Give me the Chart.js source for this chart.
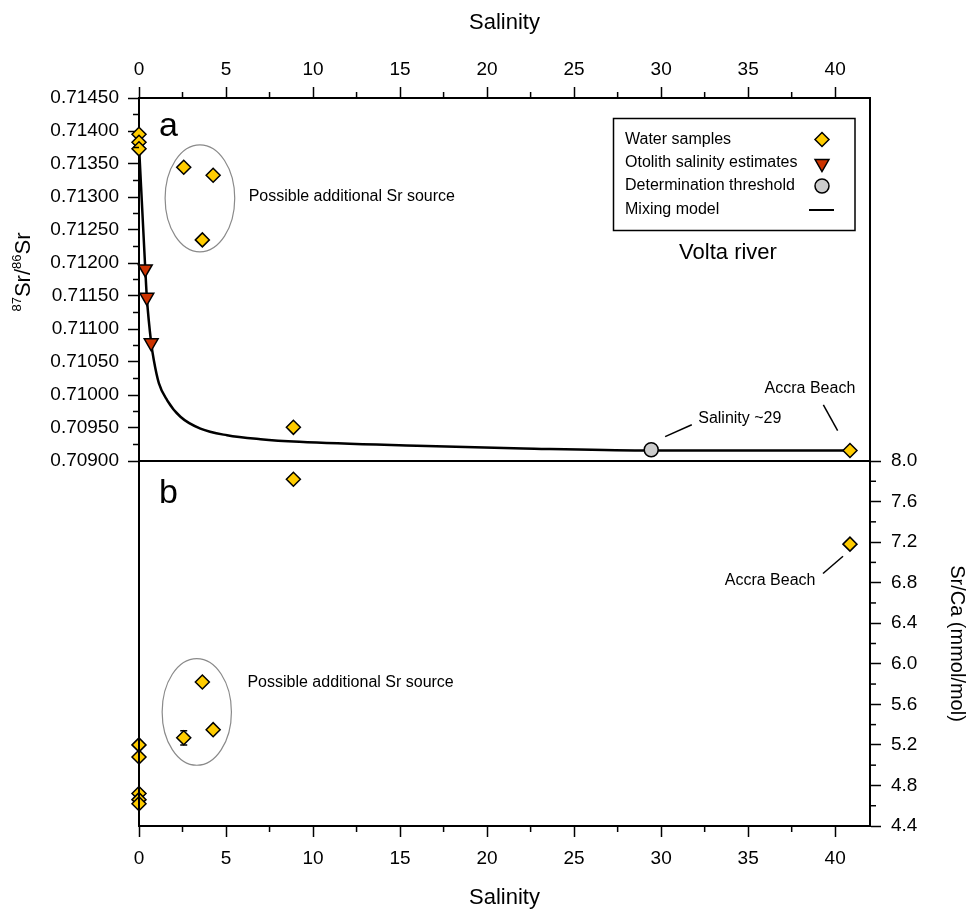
<!DOCTYPE html>
<html><head><meta charset="utf-8">
<script src="https://cdn.jsdelivr.net/npm/chart.js@4.4.0/dist/chart.umd.min.js"></script>
<style>
html,body{margin:0;padding:0;background:#fff;}
#wrap{position:relative;width:969px;height:911px;}
canvas{position:absolute;left:0;top:0;}
</style></head><body>
<div id="wrap"><canvas id="cBottom" width="969" height="911"></canvas><canvas id="cTop" width="969" height="911"></canvas></div>
<script>
// ---------- DATA ----------
const salinityTicks = [0, 5, 10, 15, 20, 25, 30, 35, 40];
const srRatioTicks = [0.70900, 0.70950, 0.71000, 0.71050, 0.71100, 0.71150, 0.71200, 0.71250, 0.71300, 0.71350, 0.71400, 0.71450];
const srCaTicks = [4.4, 4.8, 5.2, 5.6, 6.0, 6.4, 6.8, 7.2, 7.6, 8.0];

// Panel a: 87Sr/86Sr vs salinity
const waterSalinityA = [0, 0, 0, 2.57, 4.26, 3.64, 8.87, 40.85];
const waterSrRatio   = [0.71395, 0.71383, 0.71373, 0.71345, 0.71333, 0.71235, 0.70951, 0.70916];
const otolithSalinity = [0.36, 0.45, 0.70];
const otolithSrRatio  = [0.71191, 0.71148, 0.71079];
const thresholdSalinity = [29.43];
const thresholdSrRatio  = [0.70917];
const mixSalinity = [0, 0.36, 0.45, 0.70, 0.85, 1.14, 1.62, 2.38, 3.53, 5.06, 6.98, 9.21, 15.97, 22.08, 28.97, 40.85];
const mixSrRatio  = [0.71378, 0.71191, 0.71148, 0.71079, 0.71053, 0.71018, 0.70992, 0.70967, 0.70949, 0.70939, 0.70933, 0.70929, 0.70923, 0.70919, 0.70916, 0.70916];

// Panel b: Sr/Ca vs salinity
const waterSalinityB = [0, 0, 0, 0, 0, 2.57, 3.64, 4.26, 8.87, 40.85];
const waterSrCa      = [5.20, 5.08, 4.72, 4.66, 4.62, 5.27, 5.82, 5.35, 7.82, 7.18];
const waterSrCaErr   = [0, 0, 0, 0, 0, 0.07, 0, 0, 0, 0];

const legendLabels = ['Water samples', 'Otolith salinity estimates', 'Determination threshold', 'Mixing model'];

// ---------- STYLE ----------
const FF = "'Liberation Sans', Arial, Helvetica, sans-serif";
const YELLOW = '#FFCC00', RED = '#CC3300', GREY = '#CCCCCC';
const zip = (xs, ys) => xs.map((x, i) => ({x, y: ys[i]}));

function drawSym(ctx, style, x, y, r, rot, fill) {
  ctx.save();
  ctx.fillStyle = fill; ctx.strokeStyle = '#000'; ctx.lineWidth = 1.5;
  Chart.helpers.drawPoint(ctx, {pointStyle: style, radius: r, rotation: rot || 0, borderWidth: 1.5}, x, y);
  ctx.restore();
}
function line(ctx, x1, y1, x2, y2, w, c) {
  ctx.save(); ctx.strokeStyle = c || '#000'; ctx.lineWidth = w || 1.5;
  ctx.beginPath(); ctx.moveTo(x1, y1); ctx.lineTo(x2, y2); ctx.stroke(); ctx.restore();
}
function text(ctx, str, x, y, size, align) {
  ctx.save(); ctx.fillStyle = '#000'; ctx.font = size + 'px ' + FF;
  ctx.textAlign = align || 'left'; ctx.textBaseline = 'middle';
  ctx.fillText(str, x, y); ctx.restore();
}
function ellipse(ctx, sx, sy, cx, cy, hw, hh) {
  const px = sx.getPixelForValue(cx), py = sy.getPixelForValue(cy);
  const rx = Math.abs(sx.getPixelForValue(cx + hw) - px), ry = Math.abs(sy.getPixelForValue(cy + hh) - py);
  ctx.save(); ctx.strokeStyle = '#8a8a8a'; ctx.lineWidth = 1.2;
  ctx.beginPath(); ctx.ellipse(px, py, rx, ry, 0, 0, Math.PI * 2); ctx.stroke(); ctx.restore();
}

const minorTicks = {
  id: 'minorTicks',
  afterDraw(chart, args, opts) {
    const ctx = chart.ctx;
    ctx.save(); ctx.strokeStyle = '#000'; ctx.lineWidth = 1.5;
    (opts.axes || []).forEach(a => {
      const s = chart.scales[a.id];
      const start = Math.ceil(s.min / a.step - 1e-6);
      for (let k = start; k * a.step <= s.max + 1e-9; k++) {
        const v = k * a.step;
        const q = v / a.major;
        if (Math.abs(q - Math.round(q)) < 1e-4) continue;
        const p = s.getPixelForValue(v);
        ctx.beginPath();
        if (s.position === 'top') { ctx.moveTo(p, s.bottom); ctx.lineTo(p, s.bottom - a.len); }
        else if (s.position === 'bottom') { ctx.moveTo(p, s.top); ctx.lineTo(p, s.top + a.len); }
        else if (s.position === 'left') { ctx.moveTo(s.right, p); ctx.lineTo(s.right - a.len, p); }
        else { ctx.moveTo(s.left, p); ctx.lineTo(s.left + a.len, p); }
        ctx.stroke();
      }
    });
    ctx.restore();
  }
};

const tickFont = {family: FF, size: 19};
function axisBase(extra) {
  return Object.assign({
    type: 'linear',
    grid: {drawOnChartArea: false, drawTicks: true, tickLength: 11, tickWidth: 1.5, tickColor: '#000', color: '#000'},
    border: {display: true, color: '#000', width: 2},
  }, extra);
}

// ---------- TOP CHART (a) ----------
const annotA = {
  id: 'annotA',
  beforeDatasetsDraw(chart) {
    const ctx = chart.ctx, sx = chart.scales.x, sy = chart.scales.y;
    ellipse(ctx, sx, sy, 3.5, 0.71298, 2.0, 0.00081);
  },
  afterDraw(chart) {
    const ctx = chart.ctx, sx = chart.scales.x, sy = chart.scales.y, ca = chart.chartArea;
    line(ctx, ca.right, ca.top - 1, ca.right, ca.bottom, 2);
    line(ctx, ca.left, ca.bottom, ca.right, ca.bottom, 2);
    text(ctx, 'a', sx.getPixelForValue(1.69), sy.getPixelForValue(0.71406), 34, 'center');
    text(ctx, 'Possible additional Sr source', sx.getPixelForValue(6.3), sy.getPixelForValue(0.71300), 16);
    line(ctx, sx.getPixelForValue(30.23), sy.getPixelForValue(0.70937), sx.getPixelForValue(31.76), sy.getPixelForValue(0.70955), 1.5);
    text(ctx, 'Salinity ~29', sx.getPixelForValue(32.13), sy.getPixelForValue(0.70965), 16);
    line(ctx, sx.getPixelForValue(39.32), sy.getPixelForValue(0.70985), sx.getPixelForValue(40.14), sy.getPixelForValue(0.70946), 1.5);
    text(ctx, 'Accra Beach', sx.getPixelForValue(38.55), sy.getPixelForValue(0.71010), 16, 'center');
    // legend
    ctx.save(); ctx.strokeStyle = '#000'; ctx.lineWidth = 1.5; ctx.strokeRect(613.5, 118.5, 241.5, 112); ctx.restore();
    const ly = [139.5, 162.5, 186, 210];
    legendLabels.forEach((l, i) => text(ctx, l, 625, ly[i], 16));
    drawSym(ctx, 'rectRot', 822, ly[0], 7, 0, YELLOW);
    drawSym(ctx, 'triangle', 822, ly[1] + 1, 8, 180, RED);
    drawSym(ctx, 'circle', 822, ly[2], 7, 0, GREY);
    line(ctx, 809, ly[3], 834, ly[3], 2);
    text(ctx, 'Volta river', 728, 253, 22, 'center');
    // Y title with superscripts
    ctx.save();
    ctx.translate(30, 272); ctx.rotate(-Math.PI / 2);
    ctx.fillStyle = '#000'; ctx.textBaseline = 'alphabetic'; ctx.textAlign = 'left';
    const big = '22px ' + FF, small = '13px ' + FF;
    const parts = [['87', small, -9], ['Sr/', big, 0], ['86', small, -9], ['Sr', big, 0]];
    let tw = 0;
    parts.forEach(p => { ctx.font = p[1]; tw += ctx.measureText(p[0]).width; });
    let xx = -tw / 2;
    parts.forEach(p => { ctx.font = p[1]; ctx.fillText(p[0], xx, p[2]); xx += ctx.measureText(p[0]).width; });
    ctx.restore();
  }
};

new Chart(document.getElementById('cTop'), {
  type: 'scatter',
  data: {
    datasets: [
      {label: legendLabels[0], data: zip(waterSalinityA, waterSrRatio), pointStyle: 'rectRot', pointRadius: 7,
       backgroundColor: YELLOW, borderColor: '#000', borderWidth: 1.5, order: 1, clip: false},
      {label: legendLabels[1], data: zip(otolithSalinity, otolithSrRatio), pointStyle: 'triangle', pointRotation: 180, pointRadius: 8,
       backgroundColor: RED, borderColor: '#000', borderWidth: 1.5, order: 1, clip: false},
      {label: legendLabels[2], data: zip(thresholdSalinity, thresholdSrRatio), pointStyle: 'circle', pointRadius: 7,
       backgroundColor: GREY, borderColor: '#000', borderWidth: 1.5, order: 1, clip: false},
      {label: legendLabels[3], data: zip(mixSalinity, mixSrRatio), showLine: true, pointRadius: 0, borderColor: '#000',
       borderWidth: 2.5, cubicInterpolationMode: 'monotone', order: 5, clip: false}
    ]
  },
  options: {
    responsive: false, animation: false, events: [],
    layout: {padding: {left: 0, top: 0, right: 99, bottom: 450}},
    plugins: {legend: {display: false}, tooltip: {enabled: false},
      minorTicks: {axes: [{id: 'x', step: 2.5, major: 5, len: 6}, {id: 'y', step: 0.00025, major: 0.0005, len: 6}]}},
    scales: {
      x: axisBase({position: 'top', min: 0, max: 42,
        afterBuildTicks: s => { s.ticks = salinityTicks.map(v => ({value: v})); },
        ticks: {font: tickFont, color: '#000', padding: 6, maxRotation: 0, autoSkip: false, callback: v => String(v)},
        title: {display: true, text: 'Salinity', color: '#000', font: {family: FF, size: 22}, padding: {top: 10, bottom: 0}},
        afterFit: s => { s.height = 98; }}),
      y: axisBase({position: 'left', min: 0.709, max: 0.7145,
        afterBuildTicks: s => { s.ticks = srRatioTicks.map(v => ({value: v})); },
        ticks: {font: tickFont, color: '#000', padding: 9, autoSkip: false, callback: v => Number(v).toFixed(5)},
        afterFit: s => { s.width = 139; }})
    }
  },
  plugins: [minorTicks, annotA]
});

// ---------- BOTTOM CHART (b) ----------
const annotB = {
  id: 'annotB',
  beforeDatasetsDraw(chart) {
    const ctx = chart.ctx, sx = chart.scales.x, sy = chart.scales.y;
    ellipse(ctx, sx, sy, 3.32, 5.525, 1.99, 0.526);
    ctx.save(); ctx.strokeStyle = '#000'; ctx.lineWidth = 1.5;
    waterSrCaErr.forEach((e, i) => {
      if (!e) return;
      const px = sx.getPixelForValue(waterSalinityB[i]);
      const y1 = sy.getPixelForValue(waterSrCa[i] - e), y2 = sy.getPixelForValue(waterSrCa[i] + e);
      ctx.beginPath(); ctx.moveTo(px, y1); ctx.lineTo(px, y2);
      ctx.moveTo(px - 3.5, y1); ctx.lineTo(px + 3.5, y1);
      ctx.moveTo(px - 3.5, y2); ctx.lineTo(px + 3.5, y2); ctx.stroke();
    });
    ctx.restore();
  },
  afterDraw(chart) {
    const ctx = chart.ctx, sx = chart.scales.x, sy = chart.scales.y, ca = chart.chartArea;
    line(ctx, ca.left, ca.top, ca.left, ca.bottom, 2);
    text(ctx, 'b', sx.getPixelForValue(1.69), sy.getPixelForValue(7.68), 34, 'center');
    text(ctx, 'Possible additional Sr source', sx.getPixelForValue(6.23), sy.getPixelForValue(5.81), 16);
    line(ctx, sx.getPixelForValue(39.3), sy.getPixelForValue(6.89), sx.getPixelForValue(40.45), sy.getPixelForValue(7.06), 1.5);
    text(ctx, 'Accra Beach', sx.getPixelForValue(36.26), sy.getPixelForValue(6.82), 16, 'center');
  }
};

new Chart(document.getElementById('cBottom'), {
  type: 'scatter',
  data: {
    datasets: [
      {label: legendLabels[0], data: zip(waterSalinityB, waterSrCa), pointStyle: 'rectRot', pointRadius: 7,
       backgroundColor: YELLOW, borderColor: '#000', borderWidth: 1.5, clip: false}
    ]
  },
  options: {
    responsive: false, animation: false, events: [],
    layout: {padding: {left: 139, top: 461, right: 0, bottom: 0}},
    plugins: {legend: {display: false}, tooltip: {enabled: false},
      minorTicks: {axes: [{id: 'x', step: 2.5, major: 5, len: 6}, {id: 'y', step: 0.2, major: 0.4, len: 6}]}},
    scales: {
      x: axisBase({position: 'bottom', min: 0, max: 42,
        afterBuildTicks: s => { s.ticks = salinityTicks.map(v => ({value: v})); },
        ticks: {font: tickFont, color: '#000', padding: 10, maxRotation: 0, autoSkip: false, callback: v => String(v)},
        title: {display: true, text: 'Salinity', color: '#000', font: {family: FF, size: 22}, padding: {top: 0, bottom: 0}},
        afterFit: s => { s.height = 85; }}),
      y: axisBase({position: 'right', min: 4.4, max: 8.0,
        afterBuildTicks: s => { s.ticks = srCaTicks.map(v => ({value: v})); },
        ticks: {font: tickFont, color: '#000', padding: 10, autoSkip: false, callback: v => Number(v).toFixed(1)},
        title: {display: true, text: 'Sr/Ca (mmol/mol)', color: '#000', font: {family: FF, size: 20}, padding: {top: 0, bottom: 0}},
        afterFit: s => { s.width = 99; }})
    }
  },
  plugins: [minorTicks, annotB]
});
</script>
</body></html>
